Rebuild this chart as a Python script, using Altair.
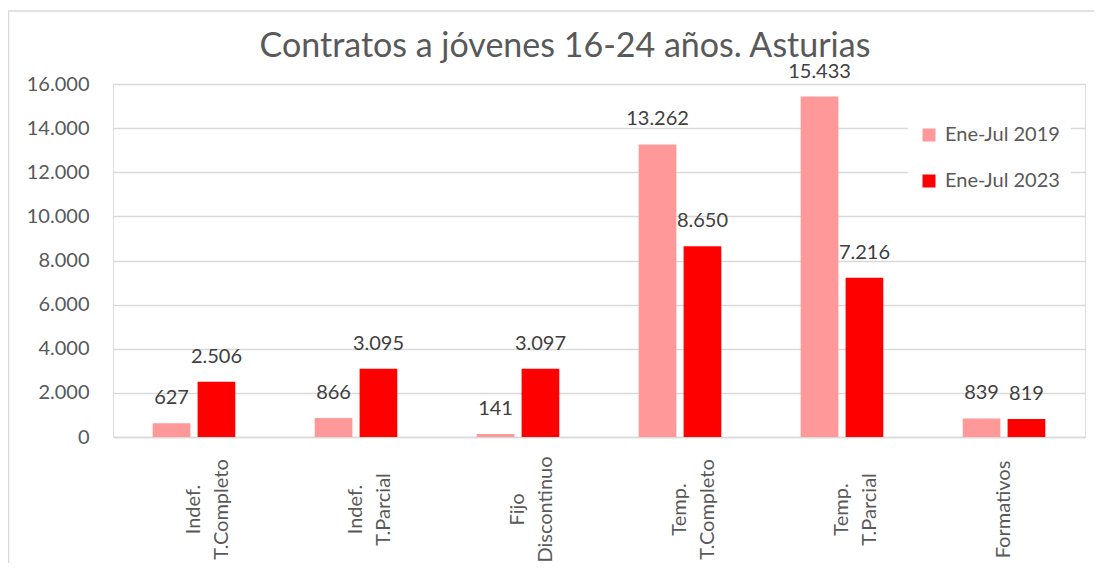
import altair as alt
import pandas as pd

categorias = ["Indef.|T.Completo", "Indef.|T.Parcial", "Fijo|Discontinuo",
              "Temp.|T.Completo", "Temp.|T.Parcial", "Formativos"]
series = ["Ene-Jul 2019", "Ene-Jul 2023"]
valores_2019 = [627, 866, 141, 13262, 15433, 839]
valores_2023 = [2506, 3095, 3097, 8650, 7216, 819]
colores = ["#FF9999", "#FF0000"]
titulo = "Contratos a jóvenes 16-24 años. Asturias"

rows = []
for c, v in zip(categorias, valores_2019):
    rows.append({"cat": c, "serie": series[0], "valor": v})
for c, v in zip(categorias, valores_2023):
    rows.append({"cat": c, "serie": series[1], "valor": v})
df = pd.DataFrame(rows)

FONT = "Lato"
W, H = 972, 353

x_enc = alt.X("cat:N", sort=categorias, title=None,
              scale=alt.Scale(paddingInner=0.49, paddingOuter=0.245),
              axis=alt.Axis(labelAngle=-90, labelAlign="center", labelBaseline="middle",
                            labelPadding=72, labelExpr="split(datum.label, '|')",
                            labelLineHeight=28, labelFontSize=20, labelColor="#595959",
                            labelFont=FONT, ticks=False, domainColor="#d9d9d9",
                            domainWidth=1.5, grid=False, labelLimit=300))
xoff = alt.XOffset("serie:N", sort=series,
                   scale=alt.Scale(paddingInner=0.16, paddingOuter=0))
y_enc = alt.Y("valor:Q", title=None,
              scale=alt.Scale(domain=[0, 16000], nice=False),
              axis=alt.Axis(values=list(range(0, 16001, 2000)), format=",d",
                            labelFontSize=20, labelColor="#595959", labelFont=FONT,
                            labelPadding=24, ticks=False, domain=False,
                            gridColor="#d9d9d9", gridWidth=1.5))

base = alt.Chart(df)
bars = base.mark_bar().encode(
    x=x_enc, xOffset=xoff, y=y_enc,
    color=alt.Color("serie:N", sort=series, title=None,
                    scale=alt.Scale(domain=series, range=colores),
                    legend=alt.Legend(orient="none", legendX=795, legendY=30,
                                      fillColor="white", padding=11,
                                      symbolType="square", symbolSize=169,
                                      symbolStrokeWidth=0,
                                      labelFontSize=20, labelFont=FONT,
                                      labelColor="#595959", labelOffset=6,
                                      rowPadding=26, labelLimit=300)),
)
labels = base.mark_text(baseline="bottom", dy=-15, fontSize=20, font=FONT,
                        color="#404040").encode(
    x=alt.X("cat:N", sort=categorias), xOffset=alt.XOffset("serie:N", sort=series),
    y="valor:Q", text=alt.Text("valor:Q", format=",d"))

one = alt.Data(values=[{"t": titulo}])
left_border = alt.Chart(one).mark_rule(color="#d9d9d9", strokeWidth=1.5).encode(
    x=alt.value(-104.5), y=alt.value(-73), y2=alt.value(500))
top_border = alt.Chart(one).mark_rule(color="#d9d9d9", strokeWidth=1.5).encode(
    x=alt.value(-104.5), x2=alt.value(1000), y=alt.value(-73))
title_text = alt.Chart(one).mark_text(fontSize=34, font=FONT, color="#595959",
                                      align="center", baseline="alphabetic").encode(
    x=alt.value(452), y=alt.value(-27), text="t:N")

chart = alt.layer(left_border, top_border, title_text, bars, labels).properties(
    width=W, height=H,
    autosize="none",
    padding={"left": 105, "top": 76, "right": 9, "bottom": 126},
).configure_view(stroke=None).configure(
    locale={"number": {"decimal": ",", "thousands": ".", "grouping": [3],
                       "currency": ["", " €"]}}
)

chart.save("out.html", embed_options={"renderer": "svg", "actions": False,
                                      "formatLocale": {"decimal": ",", "thousands": ".",
                                                       "grouping": [3], "currency": ["", " €"]}})
